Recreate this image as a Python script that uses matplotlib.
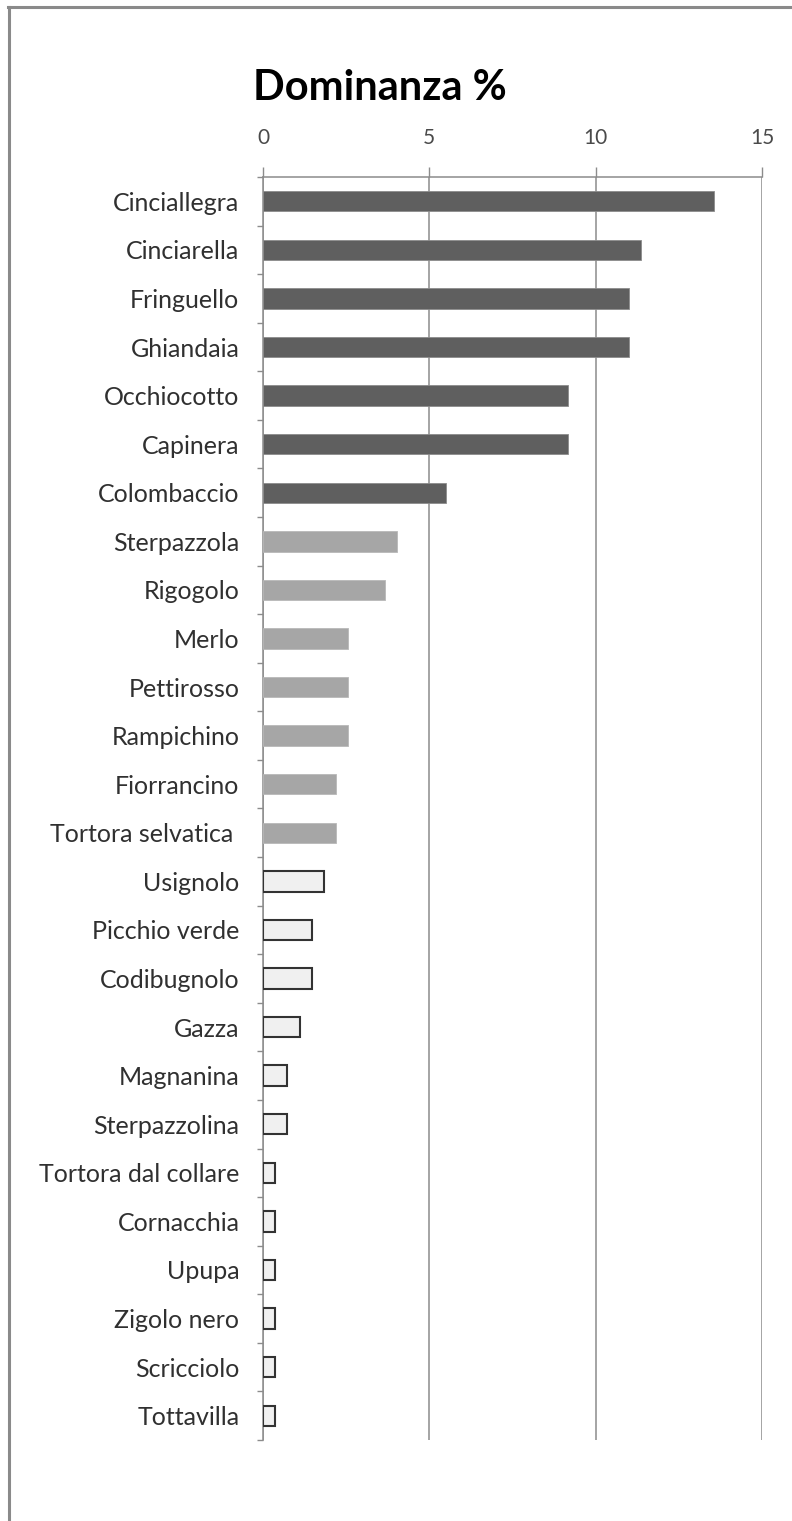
import matplotlib
matplotlib.use('Agg')
import matplotlib.pyplot as plt
from matplotlib.lines import Line2D
import numpy as np

plt.rcParams['font.family'] = ['Lato', 'DejaVu Sans']

# ── data ──
species = ['Cinciallegra', 'Cinciarella', 'Fringuello', 'Ghiandaia', 'Occhiocotto',
           'Capinera', 'Colombaccio', 'Sterpazzola', 'Rigogolo', 'Merlo',
           'Pettirosso', 'Rampichino', 'Fiorrancino', 'Tortora selvatica ',
           'Usignolo', 'Picchio verde', 'Codibugnolo', 'Gazza', 'Magnanina',
           'Sterpazzolina', 'Tortora dal collare', 'Cornacchia', 'Upupa',
           'Zigolo nero', 'Scricciolo', 'Tottavilla']
dominanza = [13.55, 11.36, 10.99, 10.99, 9.16, 9.16, 5.49, 4.03, 3.66, 2.56,
             2.56, 2.56, 2.20, 2.20, 1.83, 1.47, 1.47, 1.10, 0.73, 0.73,
             0.37, 0.37, 0.37, 0.37, 0.37, 0.37]
# dominance class: 0 = dominanti, 1 = subdominanti, 2 = altre
classe = [0]*7 + [1]*7 + [2]*12
x_ticks = [0, 5, 10, 15]

FILL = ['#5f5f5f', '#a6a6a6', '#f0f0f0']
EDGE = ['#8c8c8c', '#b8b8b8', '#333333']
LW = [0.6, 0.6, 1.5]
AXC = '#8c8c8c'

W, H = 792, 1521
fig = plt.figure(figsize=(W/100, H/100), dpi=100)
ax = fig.add_axes([263/W, 81/H, (762-263)/W, (1440-177)/H])

ypos = np.arange(len(species))
ax.barh(ypos, dominanza, height=0.42,
        color=[FILL[c] for c in classe],
        edgecolor=[EDGE[c] for c in classe],
        linewidth=[LW[c] for c in classe], zorder=3)

ax.set_xlim(0, 15)
ax.set_ylim(len(species) - 0.5, -0.5)

# x axis on top
ax.xaxis.tick_top()
ax.set_xticks(x_ticks)
ax.set_xticklabels([str(t) for t in x_ticks])
ax.tick_params(axis='x', direction='out', length=7, width=1.0, color=AXC,
               labelsize=15, labelcolor='#4a4a4a', pad=14)
ax.grid(axis='x', color=AXC, linewidth=1.1, zorder=0)

# y axis: labels at centres, tick marks between categories
ax.set_yticks(ypos)
ax.set_yticklabels(species)
ax.set_yticks(np.arange(len(species) + 1) - 0.5, minor=True)
ax.tick_params(axis='y', which='major', length=0, labelsize=18,
               labelcolor='#303030', pad=17)
ax.tick_params(axis='y', which='minor', direction='out', length=4.5,
               width=1.0, color=AXC)

for s in ['right', 'bottom']:
    ax.spines[s].set_visible(False)
for s in ['top', 'left']:
    ax.spines[s].set_color(AXC)
    ax.spines[s].set_linewidth(1.1)

fig.text(253/W, 1 - 88/H, 'Dominanza %', fontsize=30, fontweight='bold',
         ha='left', va='center', color='black')

# outer frame (top and left edges visible in the reference)
fig.add_artist(Line2D([8/W, 1], [1 - 7/H, 1 - 7/H], transform=fig.transFigure,
                      color='#8a8a8a', linewidth=2.2))
fig.add_artist(Line2D([9/W, 9/W], [0, 1 - 7/H], transform=fig.transFigure,
                      color='#8a8a8a', linewidth=2.2))

fig.savefig('out.png', dpi=100, facecolor='white')
